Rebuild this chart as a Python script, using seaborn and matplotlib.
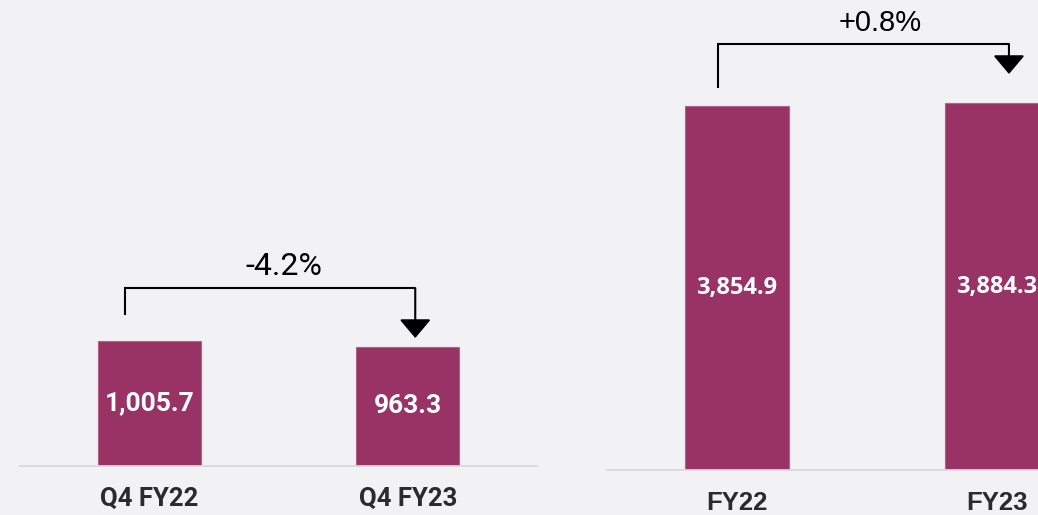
import numpy as np
import matplotlib
matplotlib.use("Agg")
import matplotlib.pyplot as plt
import seaborn as sns

# data
q_labels = ["Q4 FY22", "Q4 FY23"]
q_values = [1005.7, 963.3]
fy_labels = ["FY22", "FY23"]
fy_values = [3854.9, 3884.3]

bar_color = "#993366"
bg = "#f2f2f4"

sns.set_theme(style="white")
plt.rcParams["font.family"] = ["Roboto", "DejaVu Sans"]

fig = plt.figure(figsize=(10.38, 5.15), dpi=100, facecolor=bg)
W, H = 1038, 515

ax1 = fig.add_axes([20 / W, (H - 466) / H, 517 / W, 466 / H])
ax2 = fig.add_axes([607 / W, (H - 470) / H, 520 / W, 470 / H])


def pct(vals):
    return "{:+.1f}%".format((vals[1] / vals[0] - 1) * 100)


def panel(ax, labels, values, ytop, num_font, num_size, lab_font, br, chg_font):
    sns.barplot(x=labels, y=values, ax=ax, color=bar_color, width=0.4,
                saturation=1, edgecolor="#b5608a", linewidth=0.8)
    ax.set_facecolor(bg)
    ax.set_xlim(-0.5, 1.5)
    ax.set_ylim(0, ytop)
    for s in ["top", "left", "right"]:
        ax.spines[s].set_visible(False)
    ax.spines["bottom"].set_color("#d9d9d9")
    ax.spines["bottom"].set_linewidth(1.3)
    ax.set_yticks([])
    ax.set_ylabel("")
    ax.tick_params(axis="x", length=0, pad=15)
    for t in ax.get_xticklabels():
        t.set_fontfamily(lab_font)
        t.set_fontweight("bold")
        t.set_fontsize(18.5)
        t.set_color("#2b2b2b")
    for i, v in enumerate(values):
        ax.text(i, v / 2, "{:,.1f}".format(v), ha="center", va="center",
                color="white", fontsize=num_size, fontweight="bold", family=num_font)
    # bracket with arrow
    x0, x1, y_start, y_line, y_tip, y_txt, dx = br
    ax.plot([x0, x0, x1], [y_start, y_line, y_line], color="black", lw=1.5,
            solid_joinstyle="miter", solid_capstyle="butt")
    ax.annotate("", xy=(x1, y_tip), xytext=(x1, y_line),
                arrowprops=dict(arrowstyle="-|>,head_length=0.58,head_width=0.49",
                                mutation_scale=20, color="black", lw=1.5,
                                shrinkA=0, shrinkB=0))
    ax.text((x0 + x1) / 2 + dx, y_txt, pct(values),
            ha="center", va="center", fontsize=chg_font[1], family=chg_font[0],
            color="black")


panel(ax1, q_labels, q_values, 3758, "Roboto", 19, "Roboto",
      (-0.095, 1.029, 1218, 1435, 1032, 1605, 0.055), ("Roboto", 23))
panel(ax2, fy_labels, fy_values, 4979, "Open Sans", 17, "Liberation Sans",
      (-0.073, 1.046, 4047, 4513, 4195, 4735, 0.066), ("Liberation Sans", 21))

fig.savefig("out.png", dpi=100, facecolor=bg)
